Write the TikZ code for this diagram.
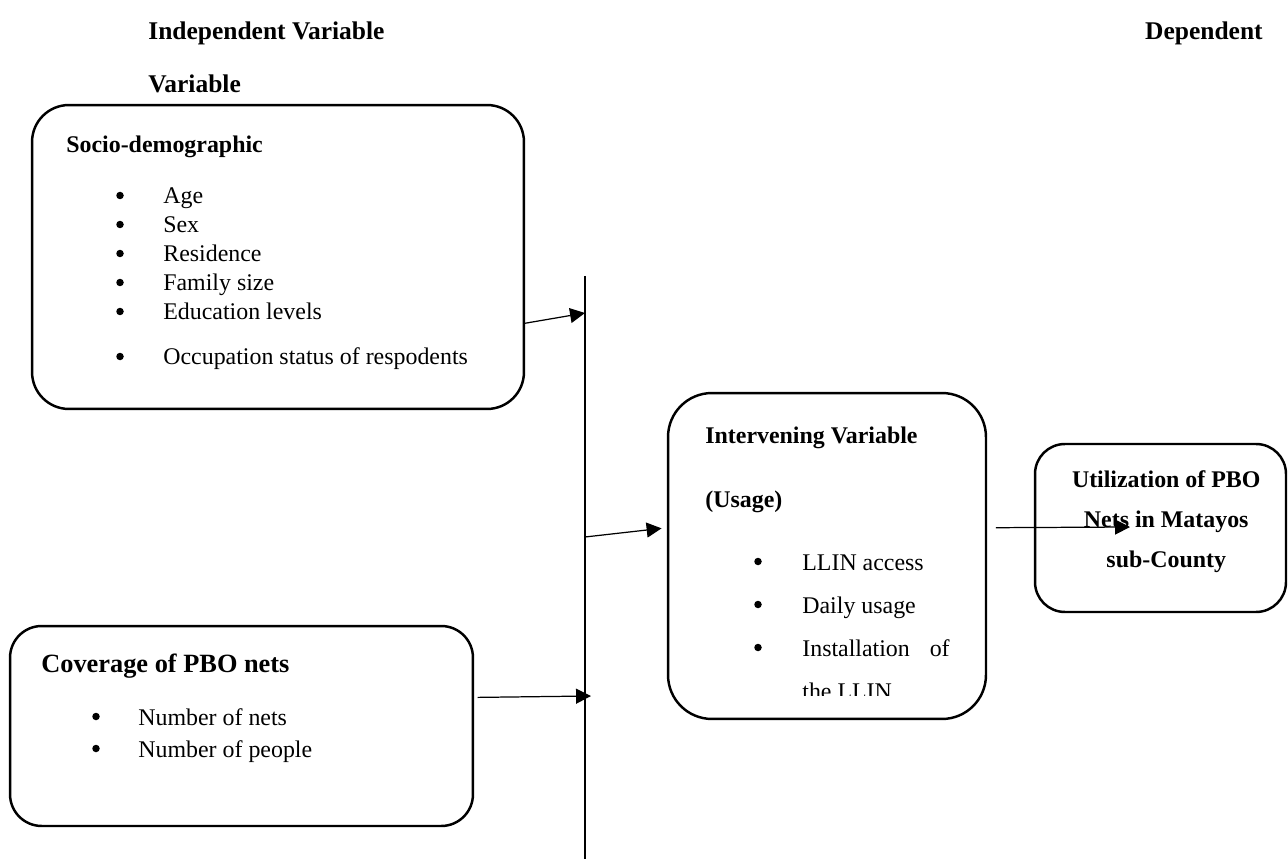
\documentclass[tikz,border=0pt]{standalone}
\usepackage{fontspec}
\setmainfont{Liberation Serif}
\usetikzlibrary{arrows.meta}

\begin{document}
\begin{tikzpicture}[x=0.02cm, y=-0.02cm,
    box/.style={draw, line width=1.4pt, inner sep=0pt},
    arrow/.style={-{Triangle[length=8.5pt,width=8.5pt]}, line width=0.7pt},
    head/.style={anchor=base west, inner sep=0pt, font=\fontsize{14.5}{17}\selectfont\bfseries},
    title/.style={anchor=base west, inner sep=0pt, font=\fontsize{13.6}{16}\selectfont\bfseries},
    item/.style={anchor=base west, inner sep=0pt, font=\fontsize{13.6}{16}\selectfont},
    dot/.style={circle, fill, inner sep=0pt, minimum size=0.15cm, yshift=0.17cm}
]
\useasboundingbox (0,0) rectangle (1288,861);

% headings
\node[head] (hind) at (148,40) {Independent Variable};
\node[head, anchor=base east] (hdep) at (1263,40) {Dependent};
\node[head] (hvar) at (148,93) {Variable};

% boxes
\node[box, rounded corners=21pt, minimum width=9.84cm, minimum height=6.08cm] (socio) at (278,257) {};
\node[box, rounded corners=18pt, minimum width=9.26cm, minimum height=4.0cm] (cov) at (241.5,726) {};
\node[box, rounded corners=25pt, minimum width=6.36cm, minimum height=6.52cm] (usage) at (827,556) {};
\node[box, rounded corners=17pt, minimum width=5.02cm, minimum height=3.36cm] (util) at (1160.5,528) {};

% socio-demographic
\node[title] (stitle) at (66,153) {Socio-demographic};
\node[dot] (sb1) at (120,204) {};
\node[item] (st1) at (163,204) {Age};
\node[dot] (sb2) at (120,233) {};
\node[item] (st2) at (163,233) {Sex};
\node[dot] (sb3) at (120,262) {};
\node[item] (st3) at (163,262) {Residence};
\node[dot] (sb4) at (120,291) {};
\node[item] (st4) at (163,291) {Family size};
\node[dot] (sb5) at (120,320) {};
\node[item] (st5) at (163,320) {Education levels};
\node[dot] (sb6) at (120,365) {};
\node[item] (st6) at (163,365) {Occupation status of respodents};

% coverage
\node[title, font=\fontsize{15}{18}\selectfont\bfseries] (ctitle) at (41,672) {Coverage of PBO nets};
\node[dot] (cb1) at (96,725) {};
\node[item] (ct1) at (138,725) {Number of nets};
\node[dot] (cb2) at (96,757) {};
\node[item] (ct2) at (138,757) {Number of people};

% intervening variable
\node[title] (utitle) at (705,443) {Intervening Variable};
\node[title] (usub) at (705,507) {(Usage)};
\node[dot] (ub1) at (758,570) {};
\node[item] (ut1) at (802,570) {LLIN access};
\node[dot] (ub2) at (758,613) {};
\node[item] (ut2) at (802,613) {Daily usage};
\node[dot] (ub3) at (758,656) {};
\node[item] (ut3) at (802,656) {Installation};
\node[item, anchor=base east] (ut3b) at (950,656) {of};
\begin{scope}
\clip (700,640) rectangle (970,695);
\node[item] (ut4) at (802,699) {the LLIN};
\end{scope}

% dependent variable
\node[title] (dt1) at (1165,487) {\makebox[0pt]{Utilization of PBO}};
\node[title] (dt2) at (1165,527) {\makebox[0pt]{Nets in Matayos}};
\node[title] (dt3) at (1165,567) {\makebox[0pt]{sub-County}};

% bus line and connectors
\coordinate (bustop) at (585,276);
\coordinate (busbot) at (585,859);
\coordinate (in1) at (585,313);
\coordinate (in2) at (591,696);
\coordinate (out1) at (585,537);
\coordinate (utiltip) at (1130,527);
\draw[line width=0.6pt] (bustop) -- (busbot);

\draw[arrow] (socio.-15.7) -- (in1);
\draw[arrow, shorten <=2pt] (cov.7.4) -- (in2);
\draw[arrow, shorten >=3pt] (out1) -- (usage.170);
\draw[arrow, shorten <=5pt] (usage.10.5) -- (utiltip);
\end{tikzpicture}
\end{document}
